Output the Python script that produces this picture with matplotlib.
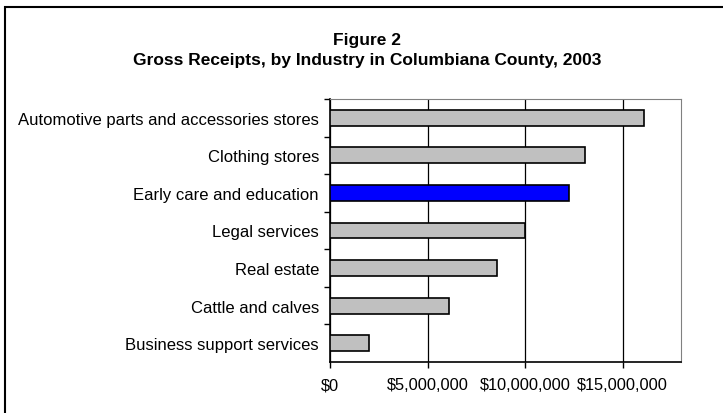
import matplotlib.pyplot as plt
import matplotlib.ticker as mticker
from matplotlib.patches import Rectangle

industries = ['Automotive parts and accessories stores', 'Clothing stores',
              'Early care and education', 'Legal services', 'Real estate',
              'Cattle and calves', 'Business support services']
receipts = [16100000, 13100000, 12250000, 9980000, 8550000, 6090000, 2020000]
highlight = 'Early care and education'
xticks = [0, 5000000, 10000000, 15000000]

plt.rcParams['font.family'] = ['Liberation Sans', 'DejaVu Sans']

fig = plt.figure(figsize=(7.23, 4.14), dpi=100)
ax = fig.add_axes([330/723, 1-363/414, 351/723, 263/414])

ypos = list(range(len(industries)))[::-1]
colors = ['#0000ff' if n == highlight else '#c0c0c0' for n in industries]
ax.barh(ypos, receipts, height=0.42, color=colors, edgecolor='black', linewidth=1.2, zorder=3)

ax.set_xlim(0, 18000000)
ax.set_ylim(-0.5, len(industries)-0.5)
ax.set_xticks(xticks)
ax.xaxis.set_major_formatter(mticker.FuncFormatter(lambda v, p: '${:,.0f}'.format(v)))
ax.grid(axis='x', color='black', linewidth=0.9, zorder=0)

ax.set_yticks(ypos)
ax.set_yticklabels(industries, fontsize=12)
ax.set_yticks([y+0.5 for y in range(len(industries))], minor=True)
ax.tick_params(axis='y', which='major', length=0, pad=8)
ax.tick_params(axis='y', which='minor', length=4, width=1, direction='out')
ax.tick_params(axis='x', length=4, width=1, labelsize=11.8, pad=7)

for s in ['top', 'right']:
    ax.spines[s].set_color('#808080')
for s in ['left', 'bottom']:
    ax.spines[s].set_color('black')
    ax.spines[s].set_linewidth(1.2)

fig.text(367/723, 1-41/414, 'Figure 2', ha='center', va='center', fontsize=12.5, fontweight='bold')
fig.text(367/723, 1-61/414, 'Gross Receipts, by Industry in Columbiana County, 2003',
         ha='center', va='center', fontsize=12.5, fontweight='bold')

fig.patches.append(Rectangle((5/723, -0.1), 1.2, 1-8/414+0.1, transform=fig.transFigure,
                             fill=False, edgecolor='black', linewidth=1.5))

fig.savefig('out.png', dpi=100)
